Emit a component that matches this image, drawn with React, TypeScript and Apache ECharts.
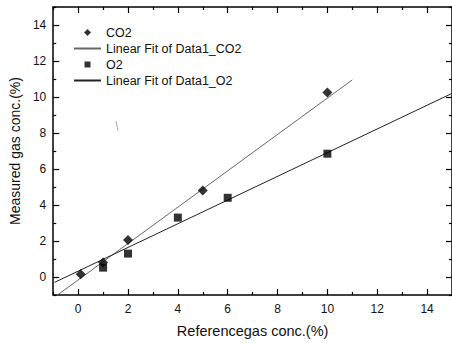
import React, { useEffect, useRef } from "react";
import * as echarts from "echarts";

// Reference concentration (%) and measured concentration (%) for each gas
const co2Ref = [0.1, 1, 2, 5, 10];
const co2Measured = [0.15, 0.8, 2.05, 4.8, 10.25];
const o2Ref = [1, 2, 4, 6, 10];
const o2Measured = [0.52, 1.3, 3.3, 4.4, 6.85];

// End points of the fitted lines
const co2FitX = [-0.83, 11];
const co2FitY = [-1, 10.95];
const o2FitX = [-0.95, 15];
const o2FitY = [-0.3, 10.2];

// Axis ticks (both axes share the same range)
const majorTicks = [0, 2, 4, 6, 8, 10, 12, 14];
const minorTicks = [-1, 1, 3, 5, 7, 9, 11, 13, 15];

const seriesNames = ["CO2", "Linear Fit of Data1_CO2", "O2", "Linear Fit of Data1_O2"];

const pair = (xs: number[], ys: number[]) => xs.map((x, i) => [x, ys[i]]);

const FONT = "Liberation Sans, Arial, sans-serif";

// Legend markers: the leading moves span the whole 27x8 icon box so the
// small marker keeps its shape and sits in the middle of the box
const diamondIcon = "path://M0,0M27,8M13.5,0.5L17,4L13.5,7.5L10,4Z";
const squareIcon = "path://M0,0M27,8M10.5,1L16.5,1L16.5,7L10.5,7Z";

type Pos = "bottom" | "top" | "left" | "right";

// One axis per side for the long ticks, another overlaid for the short ones
function makeAxis(position: Pos, minor: boolean, extra: Record<string, unknown> = {}) {
  return {
    type: "value",
    position,
    min: -1,
    max: 15,
    axisLine: {
      show: !minor,
      onZero: false,
      lineStyle: { color: "#000", width: 1.5 },
    },
    axisTick: {
      show: true,
      inside: true,
      length: minor ? 3 : 6,
      customValues: minor ? minorTicks : majorTicks,
      lineStyle: { color: "#000", width: 1.2 },
    },
    axisLabel: { show: false },
    splitLine: { show: false },
    ...extra,
  };
}

export default function App() {
  const ref = useRef<HTMLDivElement>(null);

  useEffect(() => {
    if (!ref.current) return;
    const chart = echarts.init(ref.current, undefined, { renderer: "svg" });

    const labelStyle = {
      show: true,
      customValues: majorTicks,
      fontFamily: FONT,
      fontSize: 12,
      color: "#111",
    };

    chart.setOption({
      animation: false,
      backgroundColor: "#fff",
      textStyle: { fontFamily: FONT },
      grid: { left: 51, top: 7, width: 404, height: 288 },
      legend: {
        orient: "vertical",
        left: 73,
        top: 26,
        padding: 0,
        itemWidth: 27,
        itemHeight: 8,
        itemGap: 3,
        data: [
          { name: seriesNames[0], icon: diamondIcon },
          { name: seriesNames[1], itemStyle: { color: "rgba(0,0,0,0)", borderWidth: 0 } },
          { name: seriesNames[2], icon: squareIcon },
          { name: seriesNames[3], itemStyle: { color: "rgba(0,0,0,0)", borderWidth: 0 } },
        ],
        textStyle: { fontFamily: FONT, fontSize: 12.5, color: "#111" },
      },
      xAxis: [
        makeAxis("bottom", false, {
          name: "Referencegas conc.(%)",
          nameLocation: "middle",
          nameGap: 28,
          nameTextStyle: { fontFamily: FONT, fontSize: 14.5, color: "#111" },
          axisLabel: { ...labelStyle, margin: 8 },
        }),
        makeAxis("bottom", true),
        makeAxis("top", false),
        makeAxis("top", true),
      ],
      yAxis: [
        makeAxis("left", false, {
          name: "Measured gas conc.(%)",
          nameLocation: "middle",
          nameGap: 27,
          nameTextStyle: { fontFamily: FONT, fontSize: 14, color: "#111" },
          axisLabel: { ...labelStyle, margin: 7 },
        }),
        makeAxis("left", true),
        makeAxis("right", false),
        makeAxis("right", true),
      ],
      series: [
        {
          name: seriesNames[0],
          type: "scatter",
          symbol: "diamond",
          symbolSize: 10,
          itemStyle: { color: "#000" },
          data: pair(co2Ref, co2Measured),
          z: 5,
        },
        {
          name: seriesNames[1],
          type: "line",
          symbol: "none",
          lineStyle: { color: "#666", width: 1 },
          itemStyle: { color: "#666" },
          data: pair(co2FitX, co2FitY),
        },
        {
          name: seriesNames[2],
          type: "scatter",
          symbol: "rect",
          symbolSize: 8,
          itemStyle: { color: "#000" },
          data: pair(o2Ref, o2Measured),
          z: 5,
        },
        {
          name: seriesNames[3],
          type: "line",
          symbol: "none",
          lineStyle: { color: "#222", width: 1 },
          itemStyle: { color: "#222" },
          data: pair(o2FitX, o2FitY),
        },
      ],
      graphic: [
        {
          type: "line",
          shape: { x1: 116, y1: 121, x2: 118, y2: 131 },
          style: { stroke: "#aaa", lineWidth: 1 },
        },
      ],
    });

    return () => chart.dispose();
  }, []);

  return (
    <div
      ref={ref}
      style={{ position: "fixed", left: 0, top: 0, width: 452, height: 343 }}
    />
  );
}
